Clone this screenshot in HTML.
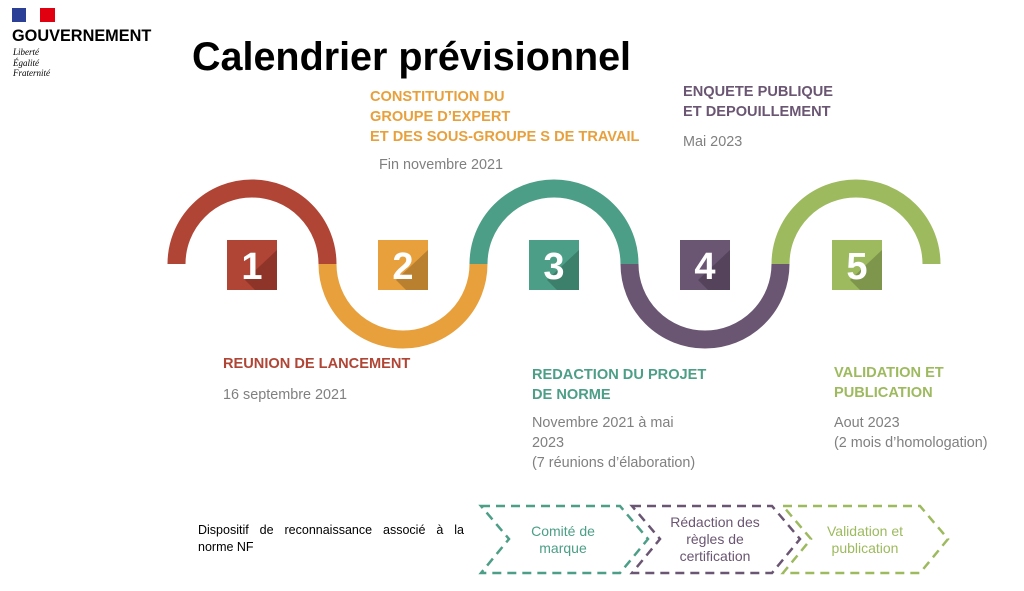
<!DOCTYPE html>
<html><head><meta charset="utf-8"><style>
body{margin:0;width:1024px;height:591px;background:#fff;position:relative;overflow:hidden;font-family:"Liberation Sans",sans-serif}
.a{position:absolute;white-space:nowrap}
.h{font-weight:bold;font-size:14.6px;line-height:20px}
.d{font-size:14.4px;color:#808080;line-height:20px}
</style></head><body>
<svg width="1024" height="591" style="position:absolute;left:0;top:0">
<rect x="12" y="8" width="14" height="14" fill="#2a3f95"/><rect x="26" y="8" width="14" height="14" fill="#fff"/><rect x="40" y="8" width="15" height="14" fill="#e1000f"/>
<g fill="none" stroke-width="18">
<path d="M176.5 264 A75.5 75.5 0 0 1 327.5 264" stroke="#b04535"/>
<path d="M327.5 264 A75.5 75.5 0 0 0 478.5 264" stroke="#e8a03c"/>
<path d="M478.5 264 A75.5 75.5 0 0 1 629.5 264" stroke="#4c9e86"/>
<path d="M629.5 264 A75.5 75.5 0 0 0 780.5 264" stroke="#6a5672"/>
<path d="M780.5 264 A75.5 75.5 0 0 1 931.5 264" stroke="#9dba5e"/>
</g>
<g font-family="Liberation Sans" font-weight="bold" font-size="38" fill="#fff" text-anchor="middle">
<rect x="227" y="240" width="50" height="50" fill="#b04535"/><polygon points="245,280 277,250 277,290 255,290" fill="#8f3429"/><text x="252" y="279">1</text>
<rect x="378" y="240" width="50" height="50" fill="#e8a03c"/><polygon points="396,280 428,250 428,290 406,290" fill="#b98030"/><text x="403" y="279">2</text>
<rect x="529" y="240" width="50" height="50" fill="#4c9e86"/><polygon points="547,280 579,250 579,290 557,290" fill="#3c7f6b"/><text x="554" y="279">3</text>
<rect x="680" y="240" width="50" height="50" fill="#6a5672"/><polygon points="698,280 730,250 730,290 708,290" fill="#54435b"/><text x="705" y="279">4</text>
<rect x="832" y="240" width="50" height="50" fill="#9dba5e"/><polygon points="850,280 882,250 882,290 860,290" fill="#7e964b"/><text x="857" y="279">5</text>
</g>
<g fill="none" stroke-width="2.5" stroke-dasharray="9 6">
<polygon points="481,506 620,506 648,539 620,573 481,573 509,539" stroke="#4c9e86"/>
<polygon points="632,506 772,506 800,539 772,573 632,573 660,539" stroke="#6a5672"/>
<polygon points="783,506 920,506 948,539 920,573 783,573 811,539" stroke="#9dba5e"/>
</g>
</svg>
<div class="a" style="left:12px;top:27px;font-weight:bold;font-size:16.3px">GOUVERNEMENT</div>
<div class="a" style="left:13px;top:47px;font-family:'Liberation Serif',serif;font-style:italic;font-size:9px;line-height:10.5px">Liberté<br>Égalité<br>Fraternité</div>
<div class="a" style="left:192px;top:35px;font-weight:bold;font-size:39.5px">Calendrier prévisionnel</div>
<div class="a h" style="left:370px;top:87px;color:#e8a03c">CONSTITUTION DU<br>GROUPE D’EXPERT<br>ET DES SOUS-GROUPE S DE TRAVAIL</div>
<div class="a d" style="left:379px;top:155px">Fin novembre 2021</div>
<div class="a h" style="left:683px;top:82px;color:#6a5672">ENQUETE PUBLIQUE<br>ET DEPOUILLEMENT</div>
<div class="a d" style="left:683px;top:132px">Mai 2023</div>
<div class="a h" style="left:223px;top:354px;color:#b04535">REUNION DE LANCEMENT</div>
<div class="a d" style="left:223px;top:385px">16 septembre 2021</div>
<div class="a h" style="left:532px;top:365px;color:#4c9e86">REDACTION DU PROJET<br>DE NORME</div>
<div class="a d" style="left:532px;top:413px">Novembre 2021 à mai<br>2023<br>(7 réunions d’élaboration)</div>
<div class="a h" style="left:834px;top:363px;color:#9dba5e">VALIDATION ET<br>PUBLICATION</div>
<div class="a d" style="left:834px;top:413px">Aout 2023<br>(2 mois d’homologation)</div>
<div class="a" style="left:198px;top:522px;font-size:12.5px;line-height:17px;width:266px;text-align:justify;text-align-last:justify">Dispositif de reconnaissance associé à la</div>
<div class="a" style="left:198px;top:539px;font-size:12.5px;line-height:17px">norme NF</div>
<div class="a" style="left:505px;top:523px;width:116px;text-align:center;font-size:14px;line-height:17px;color:#4c9e86">Comité de<br>marque</div>
<div class="a" style="left:655px;top:514px;width:120px;text-align:center;font-size:14px;line-height:17px;color:#6a5672">Rédaction des<br>règles de<br>certification</div>
<div class="a" style="left:807px;top:523px;width:116px;text-align:center;font-size:14px;line-height:17px;color:#9dba5e">Validation et<br>publication</div>
</body></html>
